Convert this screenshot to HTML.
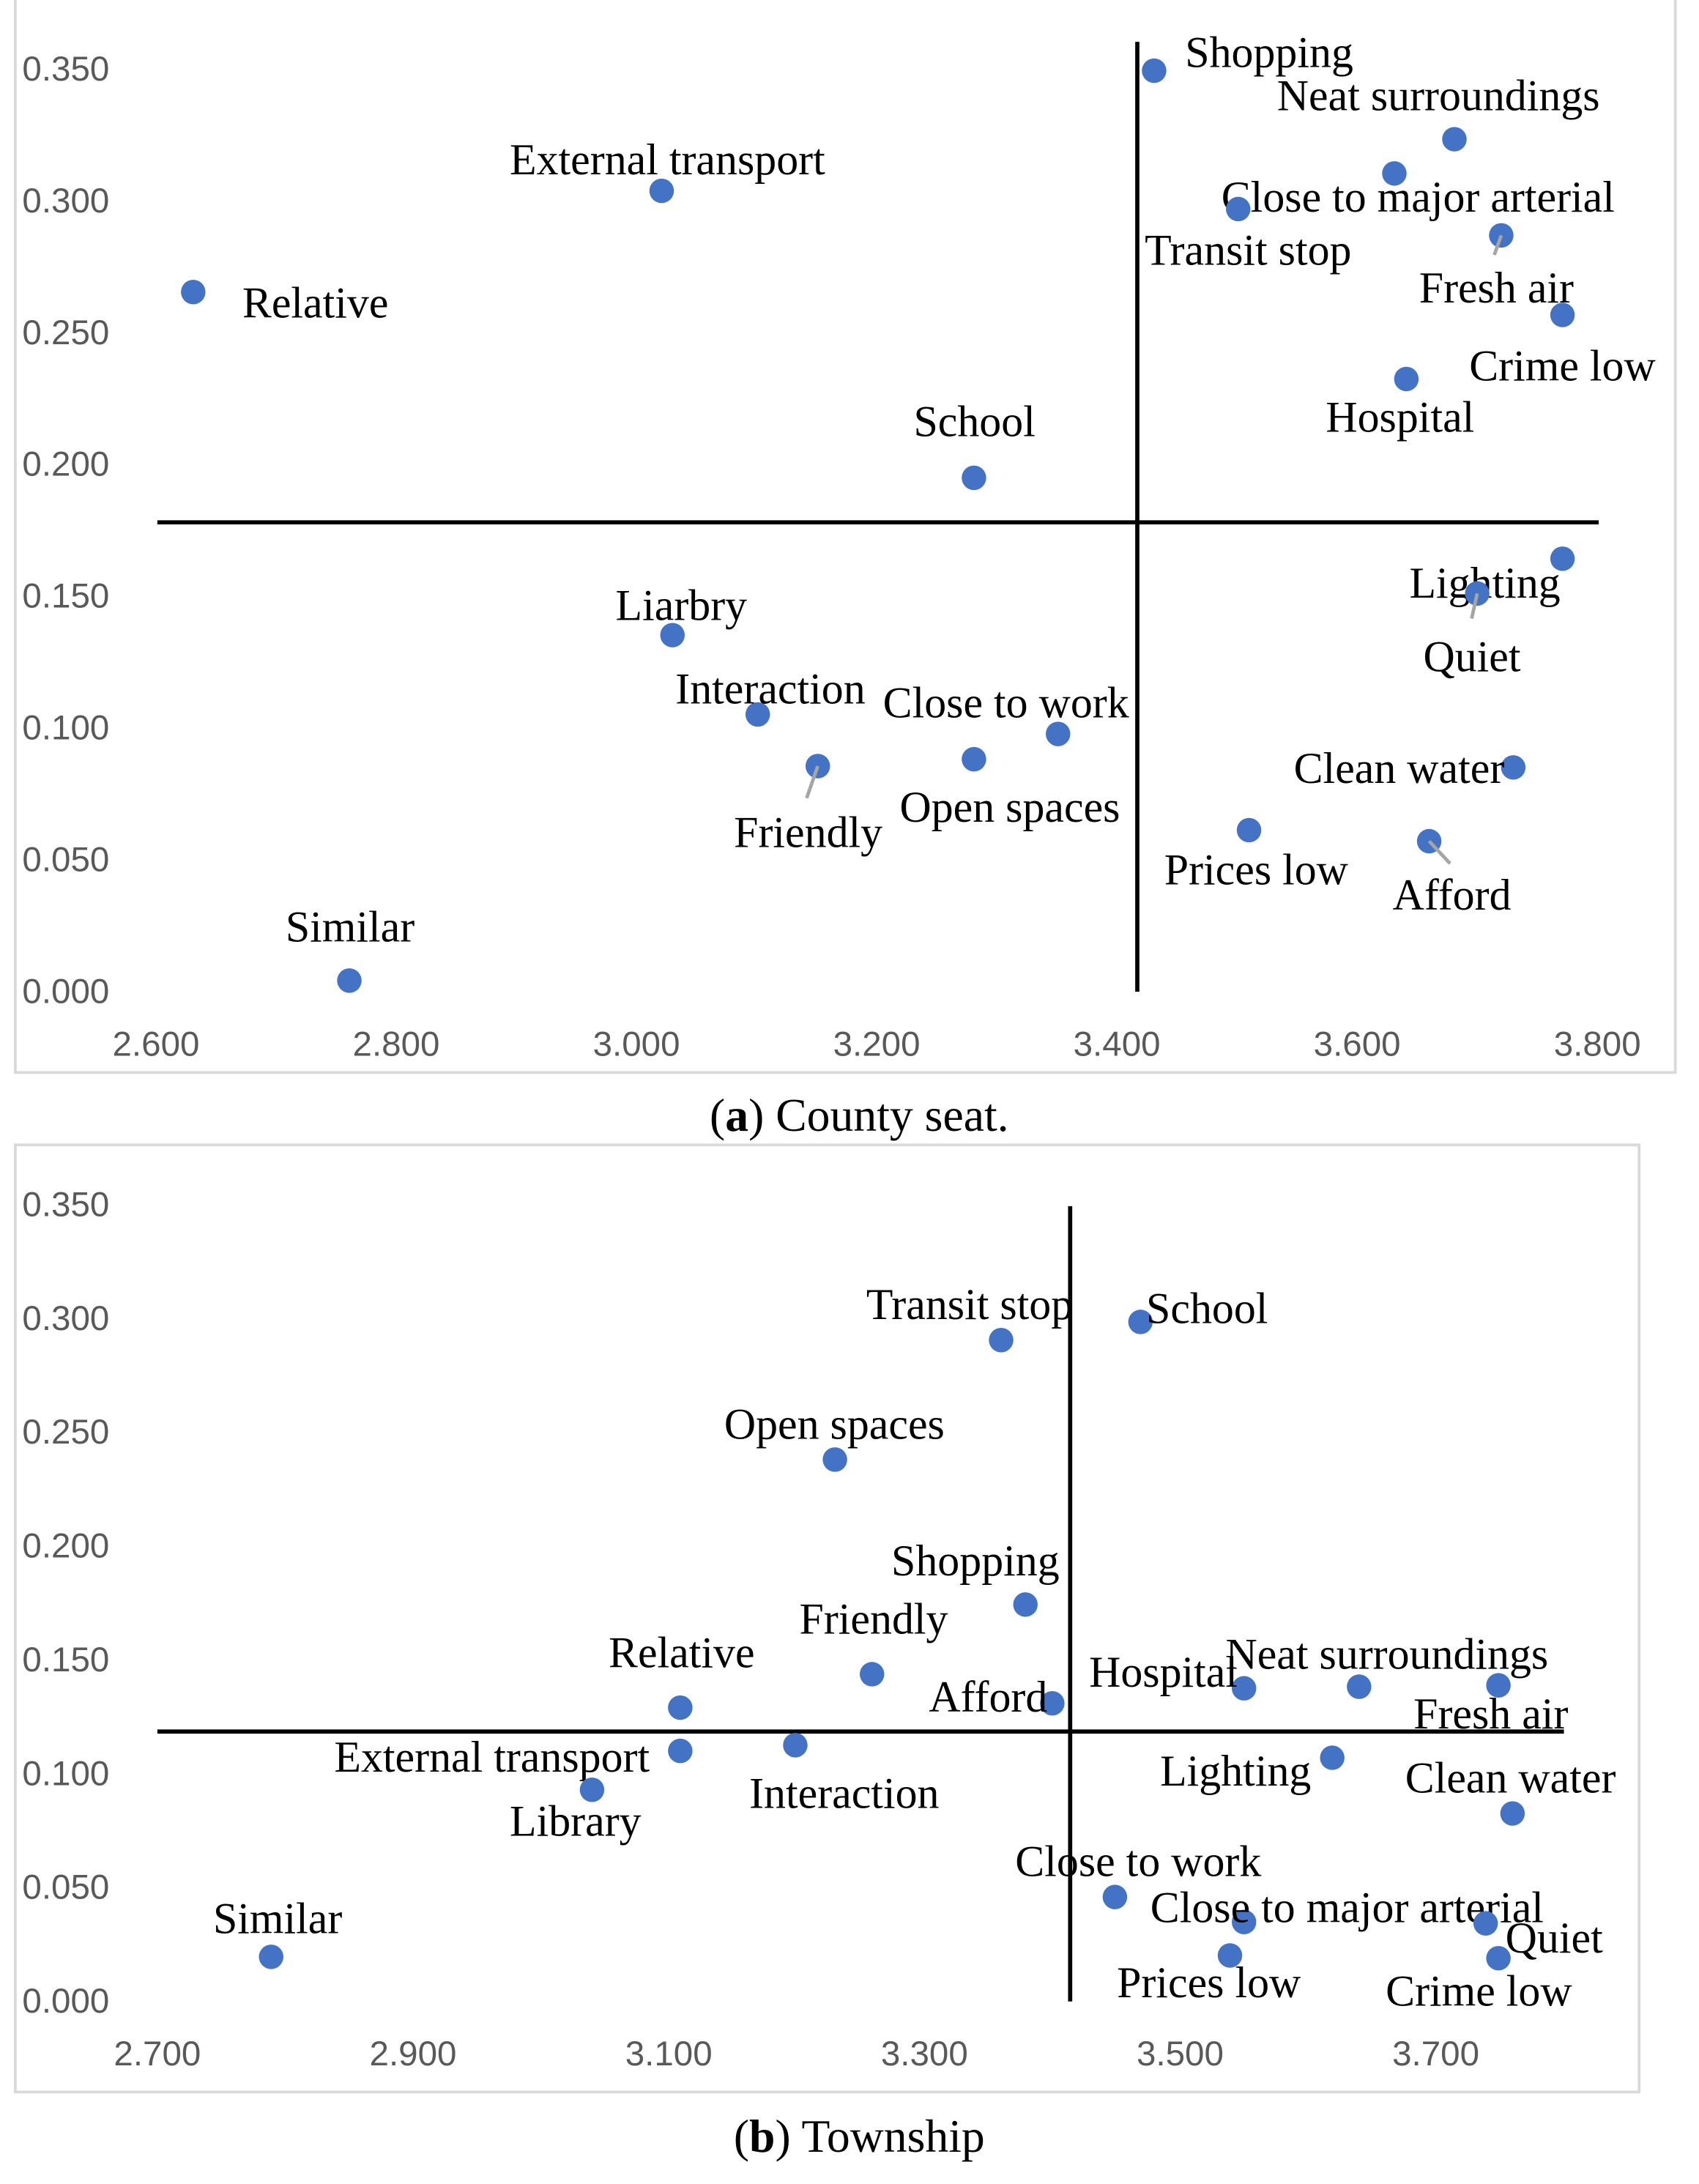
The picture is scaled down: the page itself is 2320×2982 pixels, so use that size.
<!DOCTYPE html>
<html><head><meta charset="utf-8"><style>
html,body{margin:0;padding:0;background:#fff;}
svg{display:block;}
.tick{font-family:"Liberation Sans",sans-serif;font-size:25px;fill:#595959;}
.lab{font-family:"Liberation Serif",serif;font-size:31.5px;fill:#000;}
.cap{font-family:"Liberation Serif",serif;font-size:33.5px;fill:#000;}
</style></head><body>
<svg id="svg" width="2320" height="2982" viewBox="0 0 1220 1568" xmlns="http://www.w3.org/2000/svg">
<rect x="11" y="-5" width="1192" height="775" fill="none" stroke="#d9d9d9" stroke-width="2"/>
<rect x="11" y="822" width="1166" height="680" fill="none" stroke="#d9d9d9" stroke-width="2"/>
<text class="cap" x="617" y="812" text-anchor="middle">(<tspan font-weight="bold">a</tspan>) County seat.</text>
<text class="cap" x="617" y="1545" text-anchor="middle">(<tspan font-weight="bold">b</tspan>) Township</text>
<g id="ga"></g>
<g id="gb"></g>
</svg>
<script>
// Chart A data
const aNames = ["Shopping","Neat surroundings","Close to major arterial","Transit stop","Fresh air","Crime low","Hospital","Relative","External transport","School","Lighting","Quiet","Liarbry","Interaction","Close to work","Open spaces","Friendly","Clean water","Prices low","Afford","Similar"];
const aX = [3.431,3.681,3.631,3.501,3.720,3.771,3.641,2.631,3.021,3.281,3.771,3.700,3.030,3.101,3.351,3.281,3.151,3.730,3.510,3.660,2.761];
const aY = [0.349,0.323,0.310,0.2965,0.2865,0.2563,0.232,0.265,0.3034,0.1945,0.1638,0.1506,0.1348,0.1047,0.0973,0.0877,0.0851,0.0846,0.0608,0.0566,0.0037];
const aXTicks = ["2.600","2.800","3.000","3.200","3.400","3.600","3.800"];
const aYTicks = ["0.000","0.050","0.100","0.150","0.200","0.250","0.300","0.350"];
const aCross = [3.417, 0.1776];
// Chart B data
const bNames = ["Transit stop","School","Open spaces","Shopping","Friendly","Relative","Afford","Hospital","Neat surroundings","Fresh air","External transport","Interaction","Library","Lighting","Clean water","Close to work","Close to major arterial","Quiet","Prices low","Crime low","Similar"];
const bX = [3.360,3.469,3.230,3.379,3.259,3.109,3.400,3.550,3.640,3.749,3.109,3.199,3.040,3.619,3.760,3.449,3.550,3.739,3.539,3.749,2.789];
const bY = [0.290,0.298,0.2375,0.1738,0.1432,0.1285,0.1304,0.137,0.1377,0.1383,0.1095,0.112,0.0924,0.1065,0.082,0.0453,0.0343,0.0337,0.0196,0.0184,0.019];
const bXTicks = ["2.700","2.900","3.100","3.300","3.500","3.700"];
const bYTicks = ["0.000","0.050","0.100","0.150","0.200","0.250","0.300","0.350"];
const bCross = [3.414, 0.118];

// label placement (absolute positions in view units) and leader lines
const aLabPos = [[851,48],[917,79],[877,152],[822,190],[1019,217],[1055,273],[952,310],[174,228],[366,125],[656,313],[1012,429],[1022,482],[442,445],[485,505],[634,515],[646,590],[527,608],[929,562],[836,635],[1000,653],[205,676]];
const aLeaders = {4:[-5,14],11:[-4,18],16:[-8,23],19:[15,16]};
const bLabPos = [[622,947],[823,950],[520,1033],[640,1131],[574,1173],[437,1197],[667,1229],[782,1211],[880,1198],[1015,1241],[240,1272],[538,1298],[366,1318],[833,1282],[1009,1287],[729,1347],[826,1380],[1081,1402],[802,1434],[995,1440],[153,1388]];

const NS="http://www.w3.org/2000/svg";
function mk(tag,attrs,parent){const e=document.createElementNS(NS,tag);for(const k in attrs)e.setAttribute(k,attrs[k]);parent.appendChild(e);return e;}

function drawChart(g, cfg){
  const sx=v=>cfg.x0px+(v-cfg.xmin)*cfg.xscale;
  const sy=v=>cfg.y0px-(v-0)*cfg.yscale;
  cfg.xTicks.forEach(t=>{
    const e=mk('text',{class:'tick',x:sx(parseFloat(t)),y:cfg.xTickY,'text-anchor':'middle'},g);
    
    
    e.textContent=t;
  });
  cfg.yTicks.forEach(t=>{
    const e=mk('text',{class:'tick',x:16,y:sy(parseFloat(t))+9},g);
    
    
    e.textContent=t;
  });
  const h=mk('line',{x1:cfg.hx1,x2:cfg.hx2,y1:sy(cfg.cross[1]),y2:sy(cfg.cross[1]),stroke:'#000','stroke-width':3},g);
  
  
  const v=mk('line',{x1:sx(cfg.cross[0]),x2:sx(cfg.cross[0]),y1:cfg.vy1,y2:cfg.vy2,stroke:'#000','stroke-width':3},g);
  
  
  cfg.names.forEach((n,i)=>{
    const px=sx(cfg.xs[i]),py=sy(cfg.ys[i]);
    const c=mk('circle',{cx:px,cy:py,r:8.8,fill:'#4472C4'},g);
    
    
    if(cfg.leaders && cfg.leaders[i]){
      const l=mk('line',{x1:px,y1:py,x2:px+cfg.leaders[i][0],y2:py+cfg.leaders[i][1],stroke:'#a5a5a5','stroke-width':2.5},g);
      
      
    }
    const t=mk('text',{class:'lab',x:cfg.labPos[i][0],y:cfg.labPos[i][1]},g);
    
    
    t.textContent=n;
  });
}
drawChart(document.getElementById('ga'),{names:aNames,xs:aX,ys:aY,xTicks:aXTicks,yTicks:aYTicks,cross:aCross,
  xmin:2.6,x0px:112,xscale:862.5,y0px:711,yscale:1892,xTickY:758,hx1:113,hx2:1148,vy1:30,vy2:712,labPos:aLabPos,leaders:aLeaders});
drawChart(document.getElementById('gb'),{names:bNames,xs:bX,ys:bY,xTicks:bXTicks,yTicks:bYTicks,cross:bCross,
  xmin:2.7,x0px:113,xscale:918,y0px:1436,yscale:1634,xTickY:1483,hx1:113,hx2:1123,vy1:866,vy2:1437,labPos:bLabPos,leaders:null});
</script>
</body></html>
